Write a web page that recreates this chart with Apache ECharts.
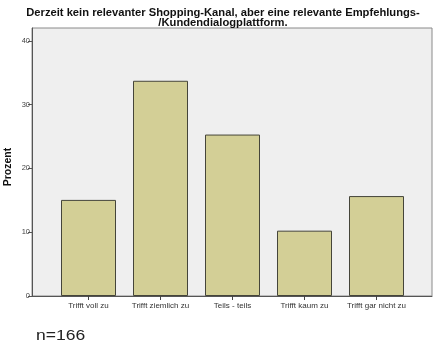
<!DOCTYPE html>
<html>
<head>
<meta charset="utf-8">
<script src="https://cdn.jsdelivr.net/npm/echarts@6/dist/echarts.min.js"></script>
<style>html,body{margin:0;padding:0;background:#fff;}#c{width:446px;height:358px;}</style>
</head>
<body>
<div id="c"></div>
<script>
const titleText = "Derzeit kein relevanter Shopping-Kanal, aber eine relevante Empfehlungs-\n/Kundendialogplattform.";
const categories = ["Trifft voll zu", "Trifft ziemlich zu", "Teils - teils", "Trifft kaum zu", "Trifft gar nicht zu"];
const percentValues = [15.06, 33.73, 25.30, 10.24, 15.66];
const yTicks = [0, 10, 20, 30, 40];
const yAxisName = "Prozent";
const footnote = "n=166";

const chart = echarts.init(document.getElementById('c'), null, {renderer: 'canvas'});
const font = 'Arial, "Liberation Sans", sans-serif';
chart.setOption({
  animation: false,
  backgroundColor: '#ffffff',
  title: {
    text: titleText,
    left: 'center',
    top: 5,
    padding: [3, 14, 3, 0],
    textStyle: {fontFamily: font, fontSize: 11.2, fontWeight: 'bold', color: '#111', lineHeight: 10}
  },
  grid: [
    {left: 32, right: 14, top: 28, bottom: 62, outerBoundsMode: 'none', containLabel: false,
     show: true, backgroundColor: '#efefef', borderColor: '#8a8a8a', borderWidth: 1},
    {left: 52.5, right: 33.5, top: 28, bottom: 62, outerBoundsMode: 'none', containLabel: false}
  ],
  xAxis: [
    {gridIndex: 0, type: 'value', min: 0, max: 1,
     axisLine: {show: true, lineStyle: {color: '#555', width: 1}},
     axisTick: {show: false}, axisLabel: {show: false}, splitLine: {show: false}},
    {gridIndex: 1, type: 'category', data: categories,
     axisLine: {show: false},
     axisTick: {show: true, alignWithLabel: true, length: 4, lineStyle: {color: '#444'}},
     axisLabel: {fontFamily: font, fontSize: 8, color: '#333', margin: 6, interval: 0}}
  ],
  yAxis: [
    {gridIndex: 0, type: 'value', min: 0, max: 42, interval: 10,
     name: yAxisName, nameLocation: 'middle', nameGap: 18, nameMoveOverlap: false,
     nameTextStyle: {fontFamily: font, fontSize: 10.5, fontWeight: 'bold', color: '#111', padding: [0, 10, 0, 0]},
     axisLine: {show: true, lineStyle: {color: '#555', width: 1}},
     axisTick: {show: true, length: 4, customValues: yTicks, lineStyle: {color: '#555'}},
     axisLabel: {fontFamily: font, fontSize: 7.5, color: '#444', margin: 2, customValues: yTicks},
     splitLine: {show: false}},
    {gridIndex: 1, type: 'value', min: 0, max: 42, show: false, splitLine: {show: false}}
  ],
  series: [{
    type: 'bar',
    xAxisIndex: 1, yAxisIndex: 1,
    data: percentValues,
    barWidth: 55,
    itemStyle: {color: '#d3cf96', borderColor: '#45453a', borderWidth: 1}
  }],
  graphic: [{
    type: 'text', x: 36, y: 329, scaleX: 1.25,
    style: {text: footnote, font: '14px Arial, "Liberation Sans", sans-serif', fill: '#222'}
  }]
});
</script>
</body>
</html>
